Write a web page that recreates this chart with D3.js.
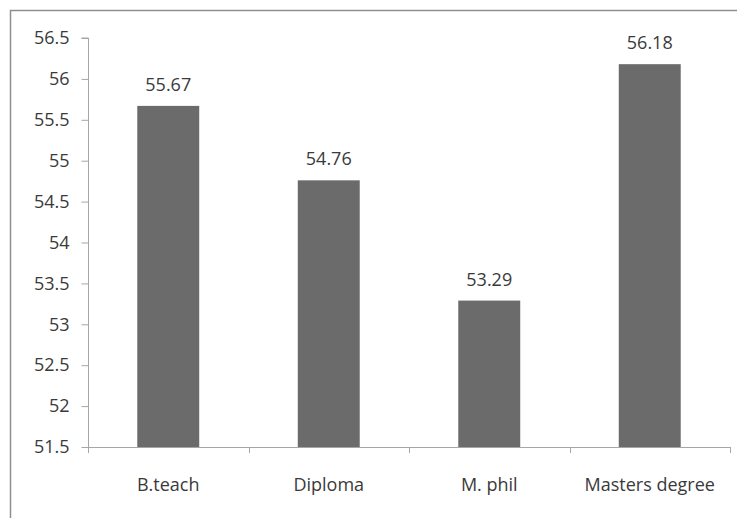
<!DOCTYPE html>
<html>
<head>
<meta charset="utf-8">
<script src="https://cdn.jsdelivr.net/npm/d3@7"></script>
<style>
  html, body { margin: 0; padding: 0; background: #fff; }
  svg { display: block; }
  text { font-family: "Open Sans", "DejaVu Sans", sans-serif; fill: #3a3a3a; }
</style>
</head>
<body>
<svg id="chart" width="737" height="518"></svg>
<script>
// Mean scores by qualification
const categories = ["B.teach", "Diploma", "M. phil", "Masters degree"];
const values = [55.67, 54.76, 53.29, 56.18];
const yTicks = [51.5, 52, 52.5, 53, 53.5, 54, 54.5, 55, 55.5, 56, 56.5];

const svg = d3.select("#chart");
const plot = { left: 88, right: 730, top: 38, bottom: 447 };
const fontSize = "18px";

// outer frame
svg.append("rect")
  .attr("x", 10.5).attr("y", 10.5)
  .attr("width", 740).attr("height", 520)
  .attr("fill", "none").attr("stroke", "#8f8f8f").attr("stroke-width", 1.5);

const x = d3.scaleBand()
  .domain(categories)
  .range([plot.left, plot.right])
  .paddingInner(0.614)
  .paddingOuter(0.307);

const y = d3.scaleLinear()
  .domain([51.5, 56.5])
  .range([plot.bottom, plot.top]);

// y axis
const yAxis = svg.append("g")
  .attr("transform", `translate(${plot.left + 0.5},0)`)
  .call(d3.axisLeft(y).tickValues(yTicks).tickFormat(d3.format("")).tickSize(7).tickPadding(12));
yAxis.selectAll("path, line").attr("stroke", "#a6a6a6");
yAxis.select(".domain").attr("d", `M-7,${y(56.5)}H0V${y(51.5)}`);
yAxis.selectAll("text").style("font-size", fontSize).attr("fill", "#3a3a3a");

// category boundary ticks on the x axis
const step = x.step();
const bounds = d3.range(categories.length + 1).map(i => plot.left + i * step);
const xAxis = svg.append("g");
xAxis.append("line")
  .attr("x1", plot.left).attr("x2", plot.right)
  .attr("y1", plot.bottom + 0.5).attr("y2", plot.bottom + 0.5)
  .attr("stroke", "#a6a6a6");
xAxis.selectAll("line.tick")
  .data(bounds)
  .join("line")
  .attr("class", "tick")
  .attr("x1", d => Math.round(d) + 0.5).attr("x2", d => Math.round(d) + 0.5)
  .attr("y1", plot.bottom).attr("y2", plot.bottom + 6)
  .attr("stroke", "#a6a6a6");

// bars
svg.selectAll("rect.bar")
  .data(values)
  .join("rect")
  .attr("class", "bar")
  .attr("x", (d, i) => x(categories[i]))
  .attr("width", x.bandwidth())
  .attr("y", d => y(d))
  .attr("height", d => y(51.5) - y(d))
  .attr("fill", "#6b6b6b");

// value labels
svg.selectAll("text.val")
  .data(values)
  .join("text")
  .attr("class", "val")
  .attr("x", (d, i) => x(categories[i]) + x.bandwidth() / 2)
  .attr("y", d => y(d) - 15)
  .attr("text-anchor", "middle")
  .style("font-size", fontSize)
  .text(d => d.toFixed(2));

// category labels
svg.selectAll("text.cat")
  .data(categories)
  .join("text")
  .attr("class", "cat")
  .attr("x", d => x(d) + x.bandwidth() / 2)
  .attr("y", plot.bottom + 44)
  .attr("text-anchor", "middle")
  .style("font-size", fontSize)
  .text(d => d);
</script>
</body>
</html>
